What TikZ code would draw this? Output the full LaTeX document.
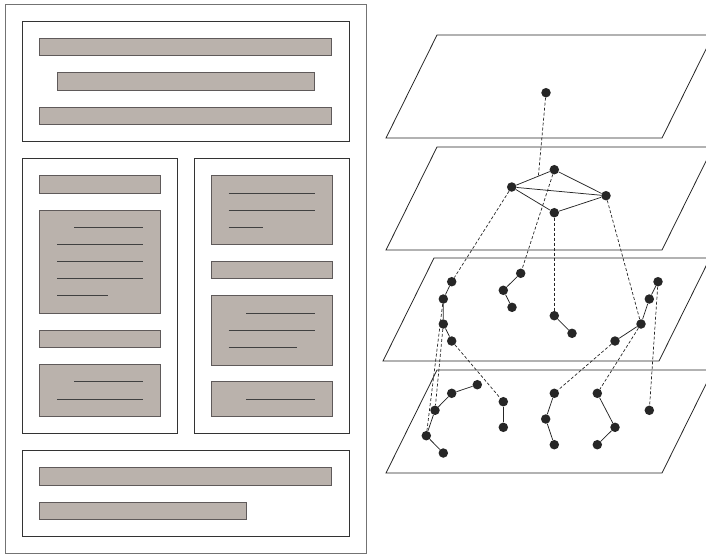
\documentclass[tikz,border=0pt]{standalone}
\definecolor{barfill}{RGB}{186,178,172}
\definecolor{bardraw}{RGB}{95,90,90}
\tikzset{
 bar/.style={fill=barfill, draw=bardraw, line width=0.9pt},
 panel/.style={draw=black!80, line width=0.8pt},
 tline/.style={draw=black!75, line width=0.8pt},
 dot/.style={circle, fill=black!85, inner sep=0pt, minimum size=9.5pt},
 link/.style={draw=black!85, line width=0.75pt},
 dlink/.style={draw=black!85, line width=0.7pt, dash pattern=on 3pt off 2pt},
 plane/.style={draw=black!85, line width=0.8pt}
}
\begin{document}
\begin{tikzpicture}[x=1pt,y=-1pt]
\useasboundingbox (0,0) rectangle (706,555);
\clip (0,0) rectangle (706,555);
% ---------- left layout ----------
\draw[draw=black!55, line width=0.9pt] (5,4) rectangle (366,553);
% top box
\draw[panel] (22.3,21) rectangle (349,141.3);
\draw[bar] (39.7,38.3) rectangle (331.7,55.7);
\draw[bar] (57,72.7) rectangle (314.7,90);
\draw[bar] (39.7,107) rectangle (331.7,124.3);
% left column
\draw[panel] (22.3,158.7) rectangle (177.3,433.3);
\draw[bar] (39.7,175.7) rectangle (160.3,193);
\draw[bar] (39.7,210) rectangle (160.3,313.3);
\draw[tline] (74,227.3) -- (143,227.3);
\draw[tline] (57,244.3) -- (143,244.3);
\draw[tline] (57,261.7) -- (143,261.7);
\draw[tline] (57,278.7) -- (143,278.7);
\draw[tline] (57,295.7) -- (108.3,295.7);
\draw[bar] (39.7,330.3) rectangle (160.3,347.7);
\draw[bar] (39.7,364.3) rectangle (160.3,416.3);
\draw[tline] (74,381.7) -- (143,381.7);
\draw[tline] (57,399) -- (143,399);
% right column
\draw[panel] (194.3,158.7) rectangle (349,433.3);
\draw[bar] (211.3,175.7) rectangle (332,244.3);
\draw[tline] (228.7,193) -- (314.7,193);
\draw[tline] (228.7,210) -- (314.7,210);
\draw[tline] (228.7,227.3) -- (263,227.3);
\draw[bar] (211.3,261.7) rectangle (332,278.7);
\draw[bar] (211.3,295.7) rectangle (332,365);
\draw[tline] (246,313) -- (314.7,313);
\draw[tline] (228.7,330.3) -- (314.7,330.3);
\draw[tline] (228.7,347.7) -- (297.3,347.7);
\draw[bar] (211.3,381.7) rectangle (332,416.3);
\draw[tline] (246,399) -- (314.7,399);
% bottom box
\draw[panel] (22.3,450.3) rectangle (349,536.7);
\draw[bar] (39.7,467.7) rectangle (331.7,485);
\draw[bar] (39.7,502) rectangle (246,519.3);
% ---------- right: planes ----------
\draw[plane] (386,138) -- (662,138) -- (713,35) -- (437,35) -- cycle;
\draw[plane] (386,250) -- (662,250) -- (713,147) -- (437,147) -- cycle;
\draw[plane] (383,361) -- (659,361) -- (710,258) -- (434,258) -- cycle;
\draw[plane] (386,473) -- (662,473) -- (713,370) -- (437,370) -- cycle;
% dots
\node[dot] (top) at (546,92.7) {};
\node[dot] (A) at (511.7,187) {};
\node[dot] (B) at (554.3,169.7) {};
\node[dot] (C) at (606,195.7) {};
\node[dot] (D) at (554.3,212.7) {};
\node[dot] (p1) at (451.7,281.7) {};
\node[dot] (p2) at (443.3,299) {};
\node[dot] (p3) at (443.3,324) {};
\node[dot] (p4) at (451.7,341) {};
\node[dot] (q1) at (520.7,273.3) {};
\node[dot] (q2) at (503.3,290.3) {};
\node[dot] (q3) at (512,307.3) {};
\node[dot] (r1) at (554.3,315.7) {};
\node[dot] (r2) at (572,333.3) {};
\node[dot] (s1) at (658,281.7) {};
\node[dot] (s2) at (649.3,299) {};
\node[dot] (s3) at (641,324) {};
\node[dot] (s4) at (615,341) {};
\node[dot] (t1) at (477.3,384.7) {};
\node[dot] (t2) at (451.7,393.3) {};
\node[dot] (t3) at (435,410.3) {};
\node[dot] (t4) at (426.3,435.7) {};
\node[dot] (t5) at (443.3,453) {};
\node[dot] (u1) at (503.3,401.7) {};
\node[dot] (u2) at (503.3,427.3) {};
\node[dot] (v1) at (554.3,393.3) {};
\node[dot] (v2) at (545.7,419) {};
\node[dot] (v3) at (554.3,444.7) {};
\node[dot] (w1) at (597.3,393.3) {};
\node[dot] (w2) at (615,427.3) {};
\node[dot] (w3) at (597.3,444.7) {};
\node[dot] (x1) at (649.3,410.3) {};
% solid links
\draw[link] (A) -- (B) (B) -- (C) (C) -- (D) (D) -- (A) (A) -- (C);
\draw[link] (p1) -- (p2) (p2) -- (p3) (p3) -- (p4);
\draw[link] (q1) -- (q2) (q2) -- (q3);
\draw[link] (r1) -- (r2);
\draw[link] (s1) -- (s2) (s2) -- (s3) (s3) -- (s4);
\draw[link] (t1) -- (t2) (t2) -- (t3) (t3) -- (t4) (t4) -- (t5);
\draw[link] (u1) -- (u2);
\draw[link] (v1) -- (v2) (v2) -- (v3);
\draw[link] (w1) -- (w2) (w2) -- (w3);
% dashed links
\path (A) -- (B) coordinate[pos=0.66] (ab);
\draw[dlink] (top) -- (ab);
\draw[dlink] (A) -- (p1);
\draw[dlink] (B) -- (q1);
\draw[dlink] (D) -- (r1);
\draw[dlink] (C) -- (s3);
\draw[dlink] (p2) -- (t4);
\draw[dlink] (p3) -- (t3);
\draw[dlink] (p4) -- (u1);
\draw[dlink] (s4) -- (v1);
\draw[dlink] (s3) -- (w1);
\draw[dlink] (s1) -- (x1);
\end{tikzpicture}
\end{document}
